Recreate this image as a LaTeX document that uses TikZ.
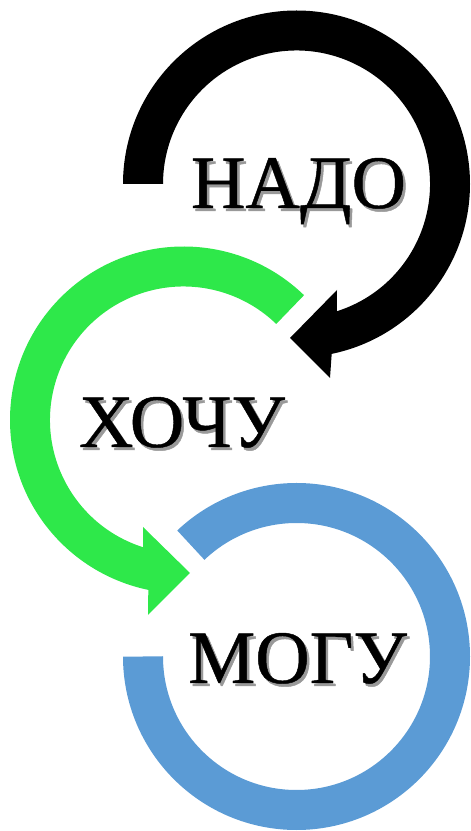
\documentclass[tikz,border=0pt]{standalone}
\usepackage{fontspec}
\setmainfont{Liberation Serif}
\newfontfamily\wordfont[FakeBold=0.6]{Liberation Serif}
\usetikzlibrary{calc}
\definecolor{ringgreen}{HTML}{2EE84A}
\definecolor{ringblue}{HTML}{5B9BD5}
\newcommand{\shadowword}[1]{\makebox[0pt][l]{\hspace{2.5pt}\raisebox{-3pt}{\textcolor{black!40}{#1}}}#1}
\tikzset{
  word/.style={anchor=base, inner sep=0pt, font=\wordfont\fontsize{75.5}{80}\selectfont, text=black},
}
\begin{document}
\begin{tikzpicture}[x=1pt,y=1pt]
\useasboundingbox (0,0) rectangle (471,831);
% centres
\coordinate (cb) at (296.5,647);
\coordinate (cg) at (183.5,411);
\coordinate (cm) at (296.5,174.5);
% arrow head points
\coordinate (bb1) at (337,541);
\coordinate (bb2) at (330,453);
\coordinate (bt) at (290,493);
\coordinate (gb1) at (143,304);
\coordinate (gb2) at (148,216);
\coordinate (gt) at (190,258);
% black circular arrow
\fill[black] ($(cb)+(180:173.5)$) arc[start angle=180,end angle=-78.3,radius=173.5]
  -- (bb2) -- (bt) -- (bb1) -- ($(cb)+(-72.4:133.5)$)
  arc[start angle=-72.4,end angle=180,radius=133.5] -- cycle;
% green circular arrow
\fill[ringgreen] ($(cg)+(46:173.5)$) arc[start angle=46,end angle=258.3,radius=173.5]
  -- (gb2) -- (gt) -- (gb1) -- ($(cg)+(252.4:133.5)$)
  arc[start angle=252.4,end angle=46,radius=133.5] -- cycle;
% blue ring
\draw[ringblue, line width=40pt, line cap=butt] ($(cm)+(180:153.5)$)
  arc[start angle=180,end angle=493.5,radius=153.5];
% words with shadows
\node[word] (t1) at (298.5,623) {\shadowword{НАДО}};
\node[word] (t2) at (182,384) {\shadowword{ХОЧУ}};
\node[word] (t3) at (297.5,148) {\shadowword{МОГУ}};
\end{tikzpicture}
\end{document}
